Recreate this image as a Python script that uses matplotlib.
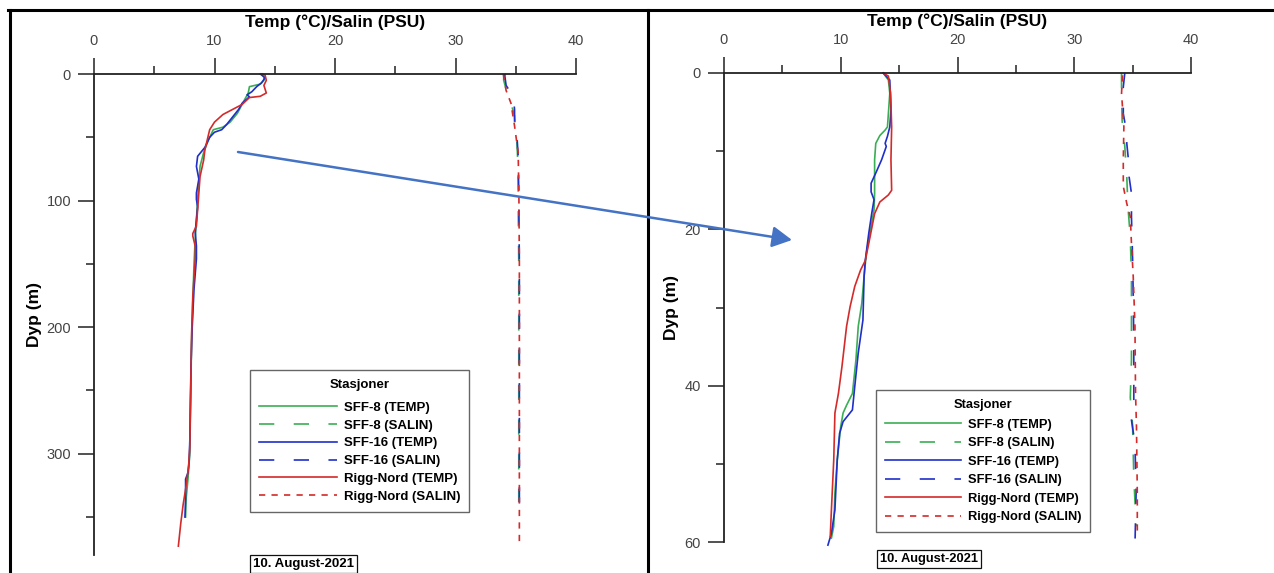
import matplotlib
matplotlib.use("Agg")
import matplotlib.pyplot as plt
from matplotlib.lines import Line2D
from matplotlib.patches import FancyArrowPatch
from matplotlib.ticker import MultipleLocator

plt.rcParams['font.family'] = ['Liberation Sans', 'DejaVu Sans']
plt.rcParams['lines.scale_dashes'] = False

# ---------------- Full-depth profiles (0-380 m) ----------------
full_sff8_temp_depth = [0, 2, 5, 8, 10, 15, 22, 31, 38, 42, 44, 52, 62, 73, 86, 99, 115,
                        130, 150, 180, 210, 240, 270, 300, 320, 335, 350]
full_sff8_temp = [13.9, 14.1, 14.1, 13.8, 12.9, 12.8, 12.4, 11.9, 11.3, 10.7, 9.9, 9.5, 9.1,
                  8.8, 8.7, 8.6, 8.5, 8.4, 8.3, 8.2, 8.1, 8.05, 8.0, 7.95, 7.8, 7.65, 7.6]

full_sff16_temp_depth = [0, 3, 7, 10, 14, 16.5, 18, 23, 28, 34, 40, 44, 46, 50, 58, 65, 73,
                         83, 94, 99, 105, 115, 125, 136, 146, 170, 200, 230, 260, 290, 305,
                         315, 320, 335, 350]
full_sff16_temp = [13.8, 14.2, 13.9, 13.5, 13.1, 12.7, 12.9, 12.3, 12.0, 11.5, 11.0, 10.6,
                   10.0, 9.6, 9.2, 8.6, 8.5, 8.7, 8.5, 8.5, 8.6, 8.5, 8.4, 8.5, 8.5, 8.3,
                   8.15, 8.05, 8.0, 7.95, 7.9, 7.8, 7.6, 7.6, 7.55]

full_rigg_temp_depth = [0, 1, 5, 9, 15, 17.6, 18.6, 24, 28, 32, 38, 44, 52, 60, 68, 81, 94,
                        107, 120, 126, 128, 136, 146, 175, 205, 235, 265, 295, 310, 325, 340,
                        355, 373]
full_rigg_temp = [14.0, 14.2, 14.3, 14.1, 14.3, 13.8, 12.9, 12.3, 11.5, 10.7, 10.0, 9.6, 9.4,
                  9.2, 9.1, 8.8, 8.7, 8.6, 8.5, 8.2, 8.2, 8.4, 8.4, 8.2, 8.1, 8.05, 8.0, 7.95,
                  7.85, 7.65, 7.4, 7.2, 7.0]

full_sff8_salin_depth = [0, 5, 12, 20, 33, 45, 55, 75, 100, 150, 200, 250, 300, 338]
full_sff8_salin = [34.0, 34.0, 34.2, 34.5, 34.9, 35.0, 35.1, 35.2, 35.2, 35.25, 35.25, 35.25,
                   35.25, 35.25]

full_sff16_salin_depth = [0, 2, 9, 18, 28, 40, 44, 49, 65, 94, 150, 200, 250, 300, 340]
full_sff16_salin = [34.1, 34.1, 34.2, 34.8, 34.9, 34.9, 34.8, 35.1, 35.2, 35.25, 35.3, 35.3,
                    35.3, 35.3, 35.3]

full_rigg_salin_depth = [0, 5, 13, 23, 41, 62, 94, 150, 200, 250, 300, 370]
full_rigg_salin = [33.97, 34.05, 34.2, 34.6, 34.9, 35.2, 35.26, 35.3, 35.3, 35.3, 35.3, 35.3]

# ---------------- Upper 60 m ----------------
top_sff8_temp_depth = [0, 0.9, 2.6, 6.9, 7.3, 8, 9, 11.1, 15.4, 17.5, 20.5, 23, 26, 29.5,
                       32.4, 36.7, 41, 42.5, 43.5, 45.2, 49.5, 53.7, 58, 59.5]
top_sff8_temp = [13.64, 14.08, 14.2, 14.0, 13.8, 13.35, 13.0, 12.9, 12.9, 12.85, 12.5, 12.2,
                 12.0, 11.8, 11.5, 11.3, 11.0, 10.5, 10.2, 10.0, 9.7, 9.5, 9.4, 9.2]

top_sff16_temp_depth = [0, 0.9, 4.7, 6.9, 8.1, 9, 9.4, 11.1, 12.8, 14.1, 15.2, 16.2, 18, 20.5,
                        24, 26, 31.6, 35.8, 40.1, 43.1, 44.6, 46.1, 49.5, 55.9, 58.9, 60.4]
top_sff16_temp = [13.64, 14.2, 14.3, 14.2, 14.0, 13.8, 13.9, 13.5, 13.0, 12.6, 12.6, 12.85,
                  12.65, 12.4, 12.1, 12.0, 11.9, 11.5, 11.2, 11.0, 10.2, 9.9, 9.7, 9.5, 9.2,
                  8.9]

top_rigg_temp_depth = [0, 0.4, 2.6, 6.9, 11.1, 15, 15.6, 16.5, 18, 21.8, 24, 25.2, 27.3, 29.9,
                       32.4, 37.6, 41, 43.5, 49.5, 55.9, 59.3]
top_rigg_temp = [13.64, 14.08, 14.27, 14.36, 14.3, 14.36, 14.08, 13.35, 12.9, 12.4, 12.1,
                 11.7, 11.2, 10.8, 10.5, 10.1, 9.8, 9.5, 9.4, 9.2, 9.1]

top_sff8_salin_depth = [0, 2.6, 6.1, 9.4, 13.3, 17.1, 21, 26, 31.6, 36.7, 41.5, 45.2, 51.6, 58]
top_sff8_salin = [34.05, 34.05, 34.1, 34.33, 34.5, 34.6, 34.8, 34.9, 34.9, 34.9, 34.8, 35.0,
                  35.1, 35.3]

top_sff16_salin_depth = [0, 1.8, 5.2, 7.7, 9, 12, 13.3, 15.4, 18.4, 23.9, 28.2, 34.6, 42, 44.4,
                         47.4, 53.7, 60.4]
top_sff16_salin = [34.33, 34.2, 34.2, 34.5, 34.5, 34.7, 34.7, 34.9, 34.9, 35.0, 35.05, 35.1,
                   35.1, 34.9, 35.2, 35.3, 35.2]

top_rigg_salin_depth = [0.3, 2.6, 6.9, 11.1, 14.5, 16.7, 18.4, 21.8, 26, 32.4, 41, 45.2, 53.7,
                        58.9]
top_rigg_salin = [34.13, 34.05, 34.25, 34.2, 34.2, 34.5, 34.8, 34.9, 35.05, 35.2, 35.25,
                  35.33, 35.4, 35.4]

station_labels = ['SFF-8 (TEMP)', 'SFF-8 (SALIN)', 'SFF-16 (TEMP)', 'SFF-16 (SALIN)',
                  'Rigg-Nord (TEMP)', 'Rigg-Nord (SALIN)']
x_ticks = [0, 10, 20, 30, 40]
date_text = '10. August-2021'

GREEN = '#3aae55'
BLUE = '#1f2fc8'
RED = '#d42a2a'
LONG_DASH = (0, (11, 14))
SHORT_DASH = (0, (4.5, 4.5))
LW = 1.2

W, H = 1274, 573
fig = plt.figure(figsize=(W / 100, H / 100), dpi=100)
fig.patch.set_facecolor('white')


def frac(x, y, w=0, h=0):
    return [x / W, 1 - (y + h) / H, w / W, h / H]


def style_axes(ax, ymax, ymajor, yminor, label_pad):
    ax.set_xlim(0, 40)
    ax.set_ylim(ymax, 0)
    ax.set_facecolor('none')
    ax.xaxis.tick_top()
    ax.xaxis.set_label_position('top')
    ax.set_xticks(x_ticks)
    ax.xaxis.set_minor_locator(MultipleLocator(5))
    ax.yaxis.set_major_locator(MultipleLocator(ymajor))
    ax.yaxis.set_minor_locator(MultipleLocator(yminor))
    for side in ('right', 'bottom'):
        ax.spines[side].set_visible(False)
    for side in ('top', 'left'):
        ax.spines[side].set_linewidth(1.3)
        ax.spines[side].set_color('#222222')
    ax.tick_params(which='major', direction='out', length=11.5, width=1.1,
                   color='#222222', labelsize=10.5, labelcolor='#444444')
    ax.tick_params(which='minor', direction='out', length=6, width=1.1, color='#222222')
    ax.tick_params(axis='x', which='major', pad=7)
    ax.tick_params(axis='y', which='major', pad=5)
    ax.set_xlabel('Temp (°C)/Salin (PSU)', fontsize=12.5, fontweight='bold', labelpad=5)
    ax.set_ylabel('Dyp (m)', fontsize=12.5, fontweight='bold', labelpad=label_pad)


def draw_profiles(ax, series):
    handles = []
    for (x, d, color, ls, label) in series:
        ln, = ax.plot(x, d, color=color, lw=LW, linestyle=ls, label=label, clip_on=False)
        handles.append(ln)
    return handles


def add_legend(ax, x, y, size, spacing, title_gap):
    leg = ax.legend(loc='upper left', bbox_to_anchor=(x / W, 1 - y / H),
                    bbox_transform=fig.transFigure, title='Stasjoner',
                    prop={'size': size, 'weight': 'bold'},
                    title_fontproperties={'size': size, 'weight': 'bold'},
                    frameon=True, fancybox=False, framealpha=1, edgecolor='#666666',
                    handlelength=5.9, handletextpad=0.5, labelspacing=spacing,
                    borderpad=0.7, borderaxespad=0)
    leg.get_frame().set_linewidth(1.0)
    # extra room between the legend title and the first entry
    leg._legend_box.sep = title_gap
    return leg


# Left panel: full depth
ax1 = fig.add_axes(frac(94, 74, 482, 481))
draw_profiles(ax1, [
    (full_sff8_temp, full_sff8_temp_depth, GREEN, '-', station_labels[0]),
    (full_sff8_salin, full_sff8_salin_depth, GREEN, LONG_DASH, station_labels[1]),
    (full_sff16_temp, full_sff16_temp_depth, BLUE, '-', station_labels[2]),
    (full_sff16_salin, full_sff16_salin_depth, BLUE, LONG_DASH, station_labels[3]),
    (full_rigg_temp, full_rigg_temp_depth, RED, '-', station_labels[4]),
    (full_rigg_salin, full_rigg_salin_depth, RED, SHORT_DASH, station_labels[5]),
])
style_axes(ax1, 380, 100, 50, 3)
add_legend(ax1, 250, 370, 9.5, 0.42, 7.5)

# Right panel: upper 60 m
ax2 = fig.add_axes(frac(724, 73, 467, 469))
draw_profiles(ax2, [
    (top_sff8_temp, top_sff8_temp_depth, GREEN, '-', station_labels[0]),
    (top_sff8_salin, top_sff8_salin_depth, GREEN, LONG_DASH, station_labels[1]),
    (top_sff16_temp, top_sff16_temp_depth, BLUE, '-', station_labels[2]),
    (top_sff16_salin, top_sff16_salin_depth, BLUE, LONG_DASH, station_labels[3]),
    (top_rigg_temp, top_rigg_temp_depth, RED, '-', station_labels[4]),
    (top_rigg_salin, top_rigg_salin_depth, RED, SHORT_DASH, station_labels[5]),
])
style_axes(ax2, 60, 20, 10, 4)
add_legend(ax2, 876, 390, 9.3, 0.5, 5.5)

# Date boxes
box = dict(boxstyle='square,pad=0.22', facecolor='white', edgecolor='#111111', linewidth=0.9)
fig.text(253 / W, 1 - 564 / H, date_text, fontsize=9.5, fontweight='bold',
         ha='left', va='center', bbox=box)
fig.text(880 / W, 1 - 559 / H, date_text, fontsize=9.3, fontweight='bold',
         ha='left', va='center', bbox=box)

# Frame lines separating the two panels
for xs, ys in [((8 / W, 1.0), (1 - 10 / H, 1 - 10 / H)),
               ((10 / W, 10 / W), (0, 1 - 10 / H)),
               ((648 / W, 648 / W), (0, 1 - 10 / H))]:
    fig.add_artist(Line2D(xs, ys, transform=fig.transFigure, color='black', lw=2.2))

# Arrow pointing from the full-depth profile to the zoomed upper layer
arrow = FancyArrowPatch((238 / W, 1 - 152 / H), (792 / W, 1 - 240 / H),
                        transform=fig.transFigure,
                        arrowstyle='-|>,head_length=0.6,head_width=0.32',
                        mutation_scale=20, color='#4472C4', lw=1.8, shrinkA=0, shrinkB=0,
                        zorder=10)
fig.add_artist(arrow)

fig.savefig('out.png', dpi=100, facecolor='white')
